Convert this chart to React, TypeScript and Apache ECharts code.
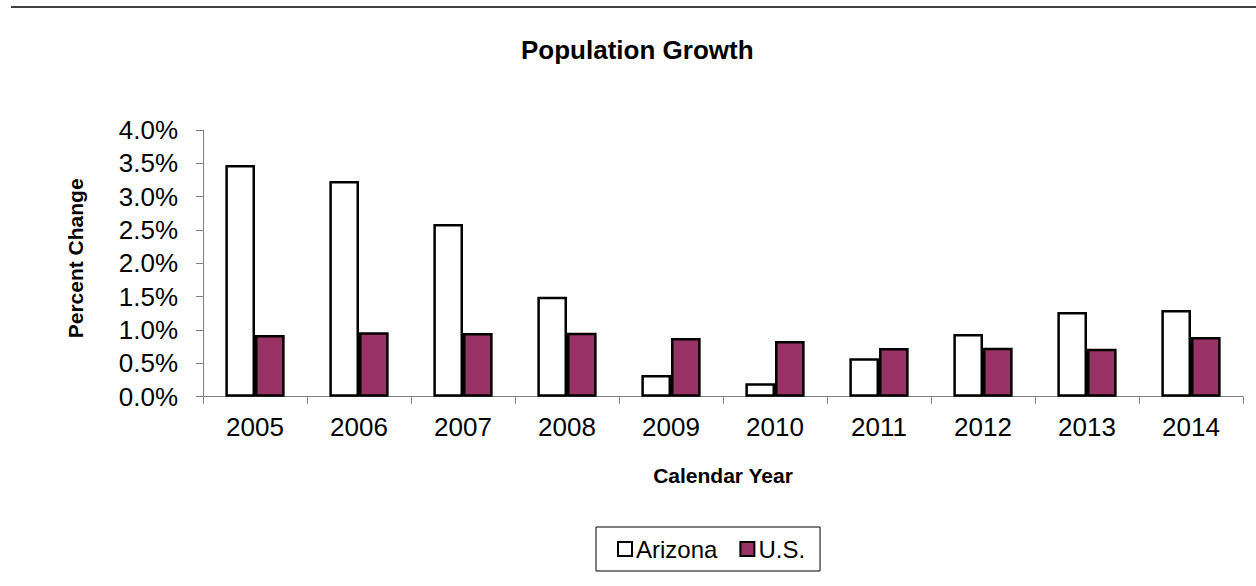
import React, { useEffect, useRef } from "react";
import * as echarts from "echarts";

// Calendar years on the category axis
const years = ["2005", "2006", "2007", "2008", "2009", "2010", "2011", "2012", "2013", "2014"];

// Annual population change, in percent
const arizonaGrowth = [3.475, 3.235, 2.59, 1.5, 0.325, 0.2, 0.575, 0.94, 1.27, 1.3];
const usGrowth = [0.925, 0.965, 0.955, 0.96, 0.88, 0.835, 0.73, 0.735, 0.72, 0.895];

const FONT = "'Liberation Sans', Arial, Helvetica, sans-serif";

export default function App() {
  const ref = useRef<HTMLDivElement>(null);

  useEffect(() => {
    if (!ref.current) return;
    const chart = echarts.init(ref.current, null, { renderer: "svg" });
    chart.setOption({
      animation: false,
      backgroundColor: "#ffffff",
      textStyle: { fontFamily: FONT, color: "#000" },
      title: {
        text: "Population Growth",
        left: 521,
        top: 37,
        padding: 0,
        textStyle: { fontFamily: FONT, fontSize: 26, fontWeight: "bold", color: "#000" },
      },
      graphic: [
        {
          type: "line",
          shape: { x1: 11, y1: 7, x2: 1256, y2: 7 },
          style: { stroke: "#000", lineWidth: 1.5 },
        },
      ],
      legend: {
        data: ["Arizona", "U.S."],
        left: 596,
        top: 527,
        orient: "horizontal",
        backgroundColor: "#fff",
        borderColor: "#000",
        borderWidth: 1,
        padding: [10, 15, 10, 21],
        itemGap: 22,
        itemWidth: 14,
        itemHeight: 14,
        icon: "rect",
        textStyle: { fontFamily: FONT, fontSize: 24, color: "#000", padding: [0, 0, 0, -1] },
      },
      grid: { left: 203, right: 13, top: 130, bottom: 189.3, containLabel: false },
      xAxis: {
        type: "category",
        data: years,
        name: "Calendar Year",
        nameLocation: "middle",
        nameGap: 68,
        nameTextStyle: { fontFamily: FONT, fontSize: 21, fontWeight: "bold", color: "#000" },
        axisLine: { show: true, lineStyle: { color: "#7f7f7f", width: 1 } },
        axisTick: { show: true, length: 7, lineStyle: { color: "#7f7f7f" } },
        axisLabel: { fontFamily: FONT, fontSize: 26, color: "#000", margin: 17 },
        splitLine: { show: false },
      },
      yAxis: {
        type: "value",
        min: 0,
        max: 4,
        interval: 0.5,
        name: "Percent Change",
        nameLocation: "middle",
        nameGap: 117,
        nameRotate: 90,
        nameTextStyle: {
          fontFamily: FONT,
          fontSize: 21,
          fontWeight: "bold",
          color: "#000",
          padding: [0, 0, 0, 10],
        },
        axisLine: { show: true, lineStyle: { color: "#7f7f7f", width: 1 } },
        axisTick: { show: true, length: 7, lineStyle: { color: "#7f7f7f" } },
        axisLabel: {
          fontFamily: FONT,
          fontSize: 26,
          color: "#000",
          margin: 25,
          formatter: (v: number) => v.toFixed(1) + "%",
        },
        splitLine: { show: false },
      },
      series: [
        {
          name: "Arizona",
          type: "bar",
          data: arizonaGrowth,
          barGap: "0%",
          barCategoryGap: "43%",
          itemStyle: { color: "#ffffff", borderColor: "#000", borderWidth: 2.5 },
        },
        {
          name: "U.S.",
          type: "bar",
          data: usGrowth,
          barGap: "0%",
          barCategoryGap: "43%",
          itemStyle: { color: "#993366", borderColor: "#000", borderWidth: 2.5 },
        },
      ],
    });
    return () => chart.dispose();
  }, []);

  return (
    <div
      ref={ref}
      style={{ position: "absolute", left: 0, top: 0, width: 1256, height: 586 }}
    />
  );
}
